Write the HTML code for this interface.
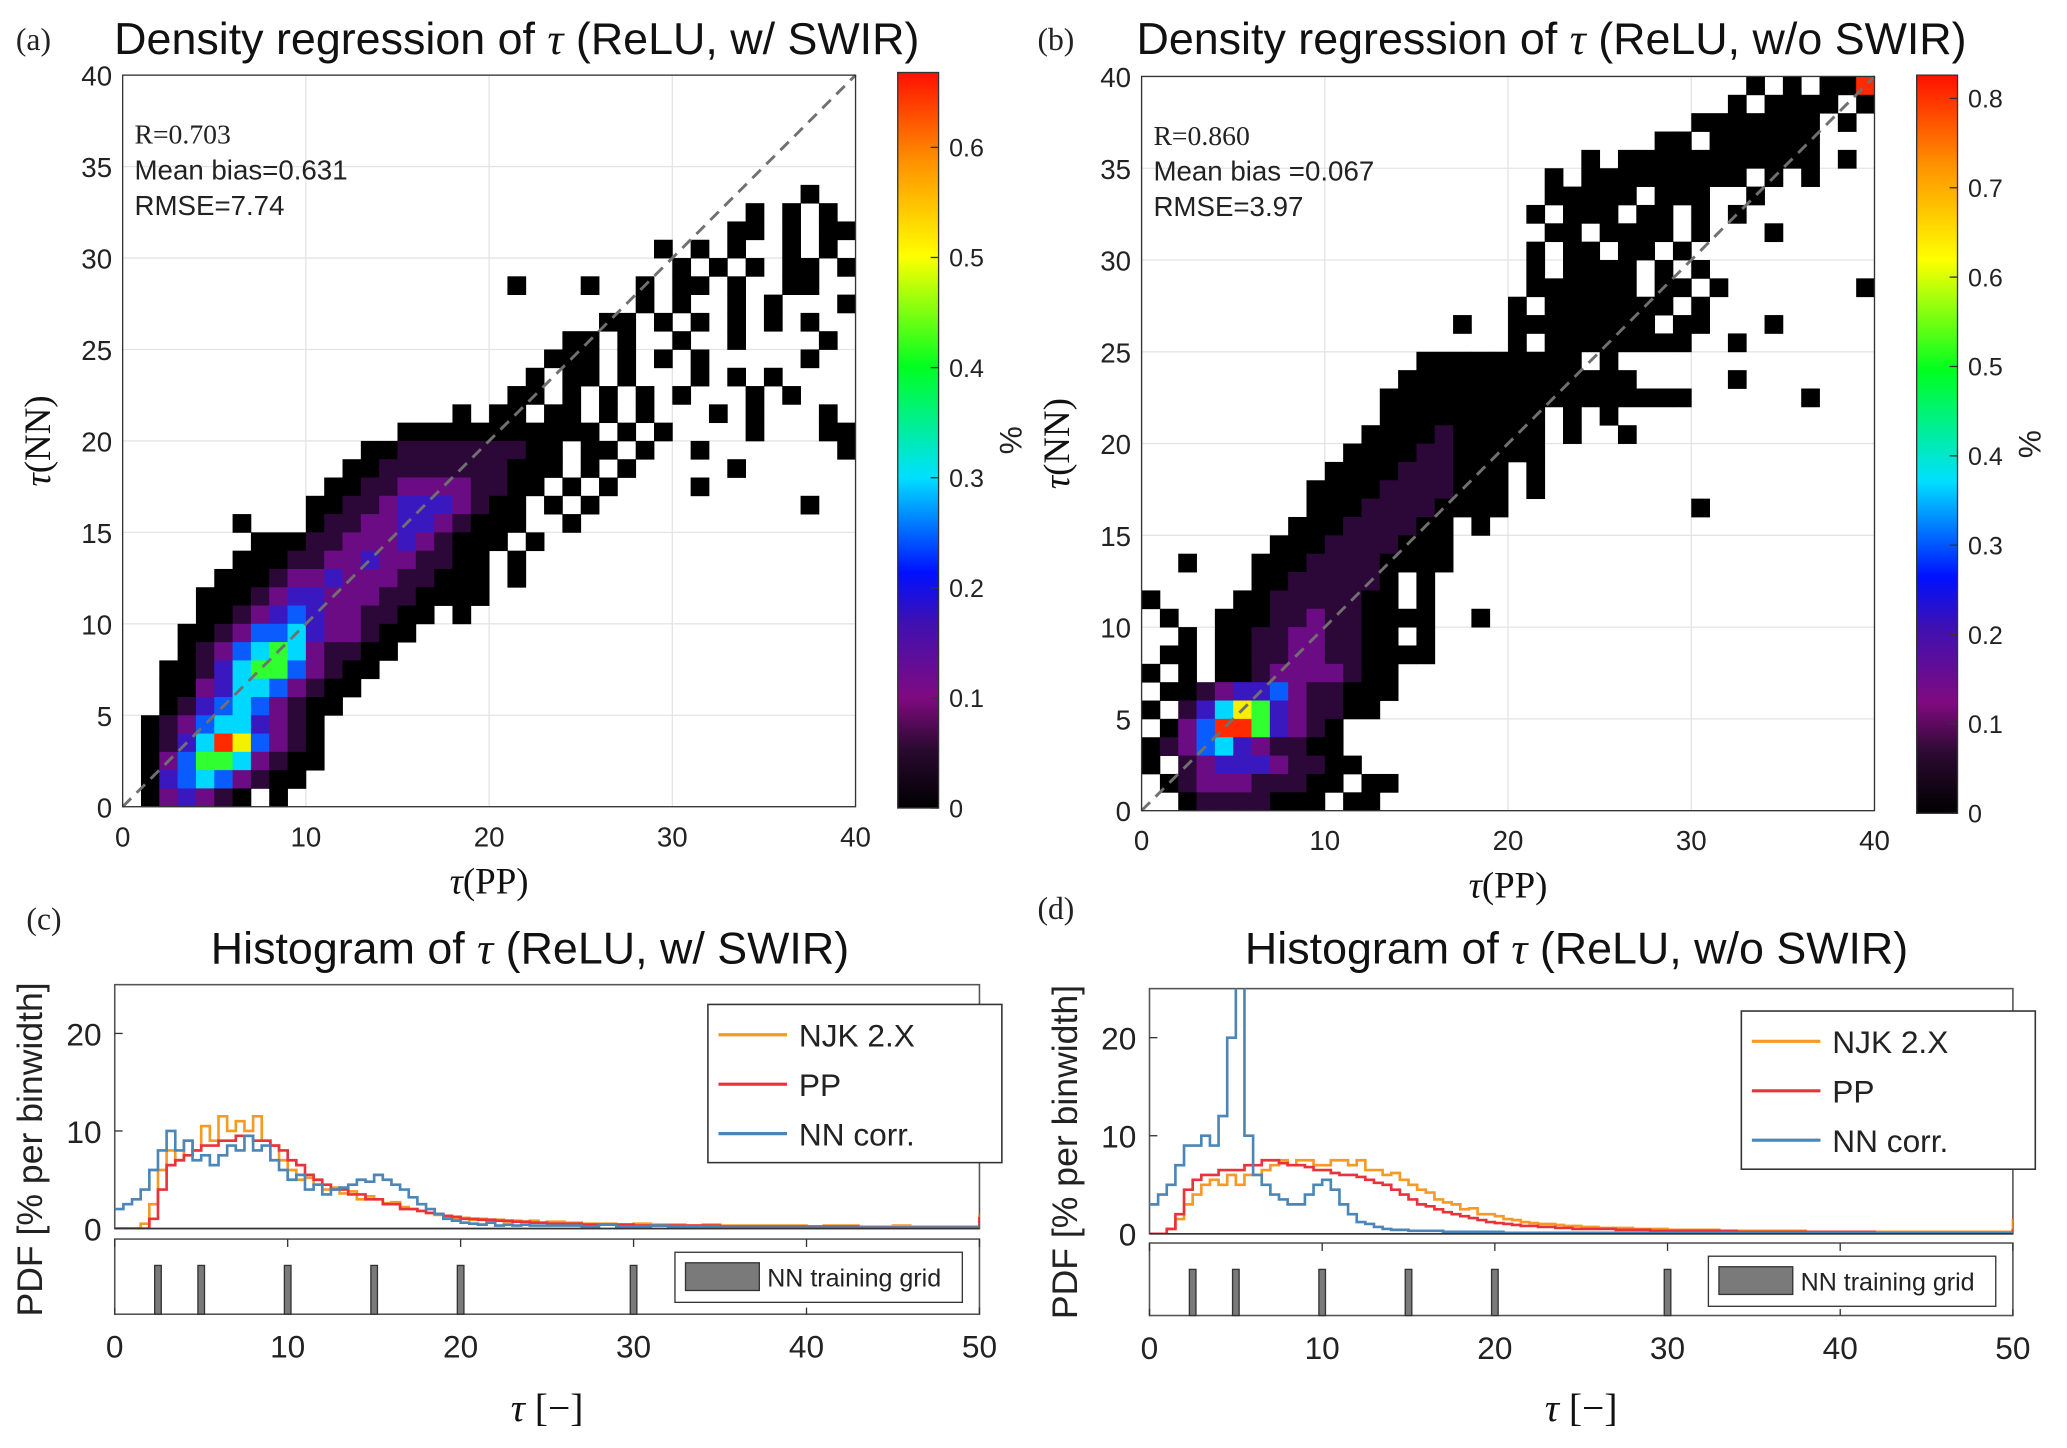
<!DOCTYPE html>
<html><head><meta charset="utf-8">
<style>
html,body{margin:0;padding:0;background:#fff;}
svg{display:block;}
text{font-family:"Liberation Sans Narrow","Liberation Sans",sans-serif;}
.serif{font-family:"Liberation Serif",serif;}
</style></head>
<body>
<svg id="fig" width="2067" height="1448" viewBox="0 0 1568 1098.5" xmlns="http://www.w3.org/2000/svg">
<defs>
<linearGradient id="jet" x1="0" y1="1" x2="0" y2="0">
<stop offset="0" stop-color="#000000"/>
<stop offset="0.08" stop-color="#2a0a30"/>
<stop offset="0.15" stop-color="#800a80"/>
<stop offset="0.25" stop-color="#4010b0"/>
<stop offset="0.32" stop-color="#0010ff"/>
<stop offset="0.45" stop-color="#00e0ff"/>
<stop offset="0.6" stop-color="#00ff20"/>
<stop offset="0.75" stop-color="#ffff00"/>
<stop offset="0.88" stop-color="#ff9000"/>
<stop offset="1" stop-color="#ff1000"/>
</linearGradient>
<clipPath id="clipC"><rect x="87" y="747" width="656" height="185"/></clipPath>
<clipPath id="clipD"><rect x="872" y="750" width="655" height="186"/></clipPath>
</defs>
<g id="root"></g>
</svg>
<script>
// ---------- data ----------
const heatLevelsA = [
".......... .......... .......... ..........",
"..........",
"..........",
"..........",
"..........",
"..........",
".......... .......... .......... .......0..",
".......... .......... .......... ....0.0.0.",
".......... .......... .......... ...00.0.00",
".......... .......... .........0 .0.0..0.0.",
".......... .......... .......... 0.0.0.00.0",
".......... .......... .0...0..0. 00.0..00..",
".......... .......... ........0. 0..0.0...0",
".......... .......... ......00.0 .0.0.0.0..",
".......... .......... ....00.0.. 0..0....0.",
".......... .......... ...000.0.0 .0.....0..",
".......... .......... ..0.00.0.. .0.0.0....",
".......... .......... .00.0.0.0. 0...0.0...",
".......... ........0. 00.00.0.0. ..0.0...0.",
".......... .....00000 000000.0.0 ....0...00",
".......... ...0011111 1100.00.0. .0.......0",
".......... ..00111111 1000.0.0.. ...0......",
".......... .001122221 100.0.0... .0........",
".......... 0011233321 00.0.0.... .......0..",
"......0... 0112233210 00..0..... ..........",
".......000 1122232100 0.0....... ..........",
"......0001 1223221100 .0........ ..........",
".....00012 2322211000 .0........ ..........",
"....000123 3222110000 .......... ..........",
"....001234 3221100.0. .......... ..........",
"...0012445 322100.... .......... ..........",
"...0124565 21100..... .......... ..........",
"..00135664 2100...... .......... ..........",
"..00235542 100....... .......... ..........",
"..01345421 00........ .......... ..........",
".012455321 0......... .......... ..........",
".0135874210 ......... .......... ..........",
".024665210 0......... .......... ..........",
".034542100 .......... .......... ..........",
".023210.0. .......... .......... .........."
];
const heatLevelsB = [
".......... .......... .......... ...0.0.008",
".......... .......... .......... ..0.0000.0",
".......... .......... .......... 0000000.0.",
".......... .......... ........00 .000000...",
".......... .......... ....0.0000 0000000.0.",
".......... .......... ..0.000000 000.0.0...",
".......... .......... ..00000.00 0..0......",
".......... .......... .0.000.00. 0.0.......",
".......... .......... ..00.0000. 0...0.....",
".......... .......... .0.00.00.0 ..........",
".......... .......... .0.0000.0. 0.........",
".......... .......... .000000.00 .0.......0",
".......... .......... 0.0000000. 0.........",
".......... .......0.. 00000000.0 0...0.....",
".......... .......... 0.00000000 ..0.......",
".......... .....00000 0000.0.... ..........",
".......... ....000000 0000000... ..0.......",
".......... ...0000000 0000000000 ......0...",
".......... ...0000000 00.0.0.... ..........",
".......... ..00001000 00.0..0... ..........",
".......... .000011000 00........ ..........",
".......... 0000111000 .0........ ..........",
".........0 0001111000 .0........ ..........",
".........0 0011110000 ..........0 .........",
"........00 0111100.0. .......... ..........",
".......000 1111000... .......... ..........",
"..0...0001 1110000... .......... ..........",
"......0011 1110.0.... .......... ..........",
"0....00111 1100.0.... .......... ..........",
".0..000112 110000..0. .......... ..........",
"..0.001122 1100.0.... .......... ..........",
".00.001122 110000.... .......... ..........",
"0.0.001222 2100...... .......... ..........",
".001233421 1000...... .......... ..........",
"0.13576321 100....... .......... ..........",
".024886321 0......... .......... ..........",
"0124532110 0......... .......... ..........",
"0.12333211 00........ .......... ..........",
".012221110 0.00...... .......... ..........",
"..01111000 .00....... .......... .........."
];
const levelColors = ["#000000","#2c0838","#6c0c84","#3a18c0","#0a5cff","#00d8ff","#30ff30","#f4f000","#ff2a00"];

const cbTicksA = [0,0.1,0.2,0.3,0.4,0.5,0.6];
const cbTicksB = [0,0.1,0.2,0.3,0.4,0.5,0.6,0.7,0.8];
const scatterXTicks = [0,10,20,30,40];
const scatterYTicks = [0,5,10,15,20,25,30,35,40];
const histXTicks = [0,10,20,30,40,50];
const histYTicks = [0,10,20];
const trainingGrid = [2.5,5,10,15,20,30];

const histX = [];
for (let i=0;i<=50;i++) histX.push(i*0.5);
for (let i=26;i<=50;i++) histX.push(i);

const njkC = [0,0,0,0.5,2.5,6,8,7,9,8,10.5,9,11.5,10,11,10,11.5,9,8.5,7,6,5,5.2,4.5,4,4.2,3.6,3.8,3,3.3,3,2.6,2.7,2.2,2,1.8,1.6,1.4,1.2,1,1.1,0.9,1,0.8,0.9,0.7,0.8,0.7,0.8,0.6,0.7,
0.6,0.5,0.5,0.4,0.5,0.4,0.4,0.3,0.4,0.3,0.3,0.3,0.3,0.3,0.2,0.3,0.3,0.2,0.2,0.3,0.2,0.2,0.2,0.2,1.5];
const ppC = [0,0,0,0,1,4,6.5,7,7.5,8,8.5,8.5,9,9,9.5,9.5,9,9,8.5,8,7,6.5,5.5,5,4.5,4,4,3.5,3.5,3,3,2.5,2.5,2,2,1.8,1.6,1.5,1.3,1.2,1,1,0.9,0.9,0.8,0.8,0.7,0.7,0.6,0.6,0.5,
0.5,0.4,0.4,0.4,0.3,0.3,0.3,0.3,0.3,0.2,0.2,0.2,0.2,0.2,0.2,0.2,0.2,0.1,0.1,0.1,0.1,0.1,0.1,0.1,1.2];
const nnC = [2,2.5,3,4,6,8,10,8,9,7,7.5,6.5,7.5,8.5,8,9.5,8,8.5,7,6,5,5.5,4,4.5,3.5,4,4.2,4.5,5,4.8,5.5,5,4.5,4,3.2,2.5,2,1.5,1,0.8,0.6,0.5,0.4,0.6,0.3,0.4,0.3,0.4,0.3,0.3,0.3,
0.3,0.2,0.4,0.2,0.2,0.3,0.2,0.2,0.2,0.1,0.1,0.1,0.1,0.1,0.1,0.1,0.1,0.1,0.1,0.1,0.1,0.1,0.1,0.1,0.1];

const njkD = [0,0,0.5,1.5,3,4,5,5.5,5,6,5,6,6,6.5,7,7.5,7,7.5,7.5,7,7,7.5,7.5,7,7.5,6.5,6.5,6,6.2,5.5,5,4.5,4.2,3.5,3.2,3,2.5,2.6,2,2,1.8,1.5,1.4,1.2,1.1,1,1,0.9,0.8,0.8,0.7,
0.6,0.6,0.5,0.5,0.4,0.4,0.4,0.3,0.3,0.3,0.3,0.3,0.2,0.2,0.2,0.2,0.2,0.2,0.2,0.2,0.2,0.2,0.2,0.2,1.5];
const ppD = [0,0,0.5,2,4.5,5.5,6,6,6.5,6.5,6.5,7,7,7.5,7.5,7.2,7,7,6.8,6.5,6.5,6.2,6,6,5.8,5.5,5.2,5,4.5,4,3.5,3,2.8,2.5,2.2,2,1.8,1.6,1.4,1.2,1.1,1,0.9,0.8,0.8,0.7,0.7,0.6,0.6,0.5,0.5,
0.5,0.4,0.4,0.3,0.3,0.3,0.3,0.3,0.2,0.2,0.2,0.2,0.2,0.2,0.2,0.2,0.1,0.1,0.1,0.1,0.1,0.1,0.1,0.1,0.5];
const nnD = [3,4,5,7,9,9,10,9,12,20,27,10,6,5,4,3.5,3,3,4,5,5.5,4.5,3,2,1.2,1,0.7,0.5,0.4,0.4,0.3,0.3,0.3,0.3,0.2,0.2,0.2,0.2,0.2,0.2,0.2,0.1,0.1,0.1,0.1,0.1,0.1,0.1,0.1,0.1,0.1,
0.1,0.1,0.1,0.1,0.1,0.1,0.1,0.1,0.1,0.1,0.1,0.1,0.1,0.1,0.1,0.1,0.1,0.1,0.1,0.1,0.1,0.1,0.1,0.1,0.1];

// ---------- helpers ----------
const NS="http://www.w3.org/2000/svg";
const root=document.getElementById('root');
function mk(tag, attrs, parent){
  const e=document.createElementNS(NS,tag);
  for(const k in attrs) e.setAttribute(k,attrs[k]);
  (parent||root).appendChild(e);
  return e;
}
function txt(x,y,s,size,anchor,cls,parent){
  const t=mk('text',{x:x,y:y,'font-size':size,'text-anchor':anchor||'start',fill:'#222'},parent);
  if(cls) t.setAttribute('class',cls);
  t.textContent=s;
  return t;
}
function linScale(d0,d1,r0,r1){return v=>r0+(v-d0)/(d1-d0)*(r1-r0);}

// ---------- scatter panel ----------
function scatterPanel(P){
  const g=mk('g',{});
  
  
  const sx=linScale(0,40,P.x0,P.x1), sy=linScale(0,40,P.y1,P.y0);
  mk('rect',{x:P.x0,y:P.y0,width:P.x1-P.x0,height:P.y1-P.y0,fill:'#fff',stroke:'none'},g);
  scatterXTicks.forEach(v=>{
    const l=mk('line',{x1:sx(v),x2:sx(v),y1:P.y0,y2:P.y1,stroke:'#e4e4e4','stroke-width':1},g);
    
    
    const t=txt(sx(v),P.y1+30,String(v),21,'middle',null,g);
    
    
  });
  scatterYTicks.forEach(v=>{
    const l=mk('line',{x1:P.x0,x2:P.x1,y1:sy(v),y2:sy(v),stroke:'#e4e4e4','stroke-width':1},g);
    
    
    const t=txt(P.x0-8,sy(v)+8,String(v),21,'end',null,g);
    
    
  });
  const cells=mk('g',{},g);
  
  
  P.levels.forEach((row,r)=>{
    const s=row.replace(/ /g,'');
    const yb=39-r;
    for(let c=0;c<40 && c<s.length;c++){
      const ch=s[c]; if(ch==='.') continue;
      const lv=+ch;
      const rc=mk('rect',{x:sx(c),y:sy(yb+1),width:sx(c+1)-sx(c)+0.3,height:sy(yb)-sy(yb+1)+0.3,fill:levelColors[lv]},cells);
      
      
    }
  });
  const d=mk('line',{x1:sx(0),y1:sy(0),x2:sx(40),y2:sy(40),stroke:'#707070','stroke-width':2.2,'stroke-dasharray':'9,6'},g);
  
  
  const fr=mk('rect',{x:P.x0,y:P.y0,width:P.x1-P.x0,height:P.y1-P.y0,fill:'none',stroke:'#333','stroke-width':1},g);
  
  
  P.stats.forEach((s,i)=>{
    const t=txt(P.x0+9,P.y0+52+i*27,s,21,'start',i===0?'serif':null,g);
    
    
  });
  const cb=mk('rect',{x:P.cbx,y:P.cby0,width:31,height:P.cby1-P.cby0,fill:'url(#jet)',stroke:'#333','stroke-width':1},g);
  
  
  const cs=linScale(0,P.cbMax,P.cby1,P.cby0);
  P.cbTicks.forEach(v=>{
    mk('line',{x1:P.cbx+25,x2:P.cbx+31,y1:cs(v),y2:cs(v),stroke:'#333'},g);
    const t=txt(P.cbx+39,cs(v)+7,String(v),19,'start',null,g);
    
    
  });
  const pc=txt(0,0,'%',24,'middle',null,g);
  pc.setAttribute('transform',`translate(${P.cbx+94},${(P.cby0+P.cby1)/2}) rotate(-90)`);
  
  
  const pl=txt(P.tagx,38,P.tag,24,'start','serif',g);
  
  
  const ti=mk('text',{x:P.titlex,y:41,'font-size':34,'text-anchor':'middle',fill:'#111'},g);
  ti.innerHTML='Density regression of <tspan font-family="Liberation Serif" font-style="italic">τ</tspan> ('+P.titleTail+')';
  
  
  const xl=mk('text',{x:(P.x0+P.x1)/2,y:P.y1+66,'font-size':28,'text-anchor':'middle',fill:'#111',class:'serif'},g);
  xl.innerHTML='<tspan font-style="italic">τ</tspan>(PP)';
  
  
  const yl=mk('text',{'font-size':28,'text-anchor':'middle',fill:'#111',class:'serif',transform:`translate(${P.x0-55},${(P.y0+P.y1)/2}) rotate(-90)`},g);
  yl.innerHTML='<tspan font-style="italic">τ</tspan>(NN)';
  
  
}

scatterPanel({name:'panel-a-density',x0:93,x1:649,y0:57,y1:612,levels:heatLevelsA,
  stats:['R=0.703','Mean bias=0.631','RMSE=7.74'],cbx:681,cby0:55,cby1:613,cbMax:0.668,cbTicks:cbTicksA,
  tag:'(a)',tagx:12,titlex:392,titleTail:'ReLU, w/ SWIR'});
scatterPanel({name:'panel-b-density',x0:866,x1:1422,y0:58,y1:615,levels:heatLevelsB,
  stats:['R=0.860','Mean bias =0.067','RMSE=3.97'],cbx:1454,cby0:57,cby1:617,cbMax:0.826,cbTicks:cbTicksB,
  tag:'(b)',tagx:787,titlex:1177,titleTail:'ReLU, w/o SWIR'});

// ---------- histogram panel ----------
function histPanel(P){
  const g=mk('g',{});
  
  
  const sx=linScale(0,50,P.x0,P.x1), sy=linScale(0,P.yMax,P.y1,P.y0);
  const fr=mk('rect',{x:P.x0,y:P.y0,width:P.x1-P.x0,height:P.y1-P.y0,fill:'none',stroke:'#555','stroke-width':1.2},g);
  
  
  histYTicks.forEach(v=>{
    mk('line',{x1:P.x0,x2:P.x0+6,y1:sy(v),y2:sy(v),stroke:'#333'},g);
    const t=txt(P.x0-10,sy(v)+9,String(v),24,'end',null,g);
    
    
  });
  [[P.njk,'#f79a24','njk-line'],[P.pp,'#e8333a','pp-line'],[P.nn,'#4a86b8','nn-line']].forEach(([vals,col,nm])=>{
    let d='';
    vals.forEach((v,i)=>{
      const x=sx(histX[i]), y=sy(v);
      if(i===0) d+=`M${x},${y}`; else d+=`H${x}V${y}`;
    });
    d+=`H${sx(50)}`;
    const p=mk('path',{d:d,fill:'none',stroke:col,'stroke-width':2,'clip-path':`url(#${P.clip})`},g);
    
    
  });
  mk('line',{x1:P.x0,x2:P.x1,y1:P.y1,y2:P.y1,stroke:'#333','stroke-width':1.2},g);
  const lg=mk('g',{},g);
  
  
  mk('rect',{x:P.lgx,y:P.lgy,width:223,height:120,fill:'#fff',stroke:'#333','stroke-width':1.2},lg);
  [['NJK 2.X','#f79a24'],['PP','#e8333a'],['NN corr.','#4a86b8']].forEach(([s,c],i)=>{
    const yy=P.lgy+23+i*37.5;
    const e=mk('g',{},lg);
    
    
    mk('line',{x1:P.lgx+8,x2:P.lgx+60,y1:yy,y2:yy,stroke:c,'stroke-width':2.4},e);
    txt(P.lgx+69,yy+9,s,24,'start',null,e);
  });
  const s0=P.sy0, s1=P.sy1;
  const sr=mk('rect',{x:P.x0,y:s0,width:P.x1-P.x0,height:s1-s0,fill:'none',stroke:'#555','stroke-width':1.2},g);
  
  
  histXTicks.forEach(v=>{
    mk('line',{x1:sx(v),x2:sx(v),y1:s0,y2:s0+6,stroke:'#333'},g);
    mk('line',{x1:sx(v),x2:sx(v),y1:s1,y2:s1-5,stroke:'#333'},g);
    const t=txt(sx(v),s1+33,String(v),24,'middle',null,g);
    
    
  });
  trainingGrid.forEach(v=>{
    const b=mk('rect',{x:sx(v)-2.5,y:s0+20,width:5,height:s1-s0-20,fill:'#7a7a7a',stroke:'#333','stroke-width':1},g);
    
    
  });
  const lg2=mk('g',{},g);
  
  
  mk('rect',{x:P.l2x,y:s0+10,width:218,height:38,fill:'#fff',stroke:'#333','stroke-width':1},lg2);
  mk('rect',{x:P.l2x+8,y:s0+18,width:56,height:21,fill:'#7a7a7a',stroke:'#333','stroke-width':1},lg2);
  txt(P.l2x+70,s0+36,'NN training grid',19,'start',null,lg2);
  const pl=txt(P.tagx,P.tagy,P.tag,24,'start','serif',g);
  
  
  const ti=mk('text',{x:P.titlex,y:731,'font-size':34,'text-anchor':'middle',fill:'#111'},g);
  ti.innerHTML='Histogram of <tspan font-family="Liberation Serif" font-style="italic">τ</tspan> ('+P.titleTail+')';
  
  
  const xl=mk('text',{x:(P.x0+P.x1)/2,y:1078,'font-size':30,'text-anchor':'middle',fill:'#111',class:'serif'},g);
  xl.innerHTML='<tspan font-style="italic">τ</tspan> [−]';
  
  
  const yl=txt(0,0,'PDF [% per binwidth]',27,'middle',null,g);
  yl.setAttribute('transform',`translate(${P.x0-55},${(P.y0+s1)/2}) rotate(-90)`);
  
  
}
histPanel({name:'panel-c-histogram',x0:87,x1:743,y0:747,y1:932,yMax:25,sy0:940,sy1:997,clip:'clipC',
  njk:njkC,pp:ppC,nn:nnC,lgx:537,lgy:762,l2x:512,tag:'(c)',tagx:20,tagy:705,titlex:402,titleTail:'ReLU, w/ SWIR'});
histPanel({name:'panel-d-histogram',x0:872,x1:1527,y0:750,y1:936,yMax:25,sy0:943,sy1:998,clip:'clipD',
  njk:njkD,pp:ppD,nn:nnD,lgx:1321,lgy:767,l2x:1296,tag:'(d)',tagx:787,tagy:697,titlex:1196,titleTail:'ReLU, w/o SWIR'});
</script>
</body></html>
